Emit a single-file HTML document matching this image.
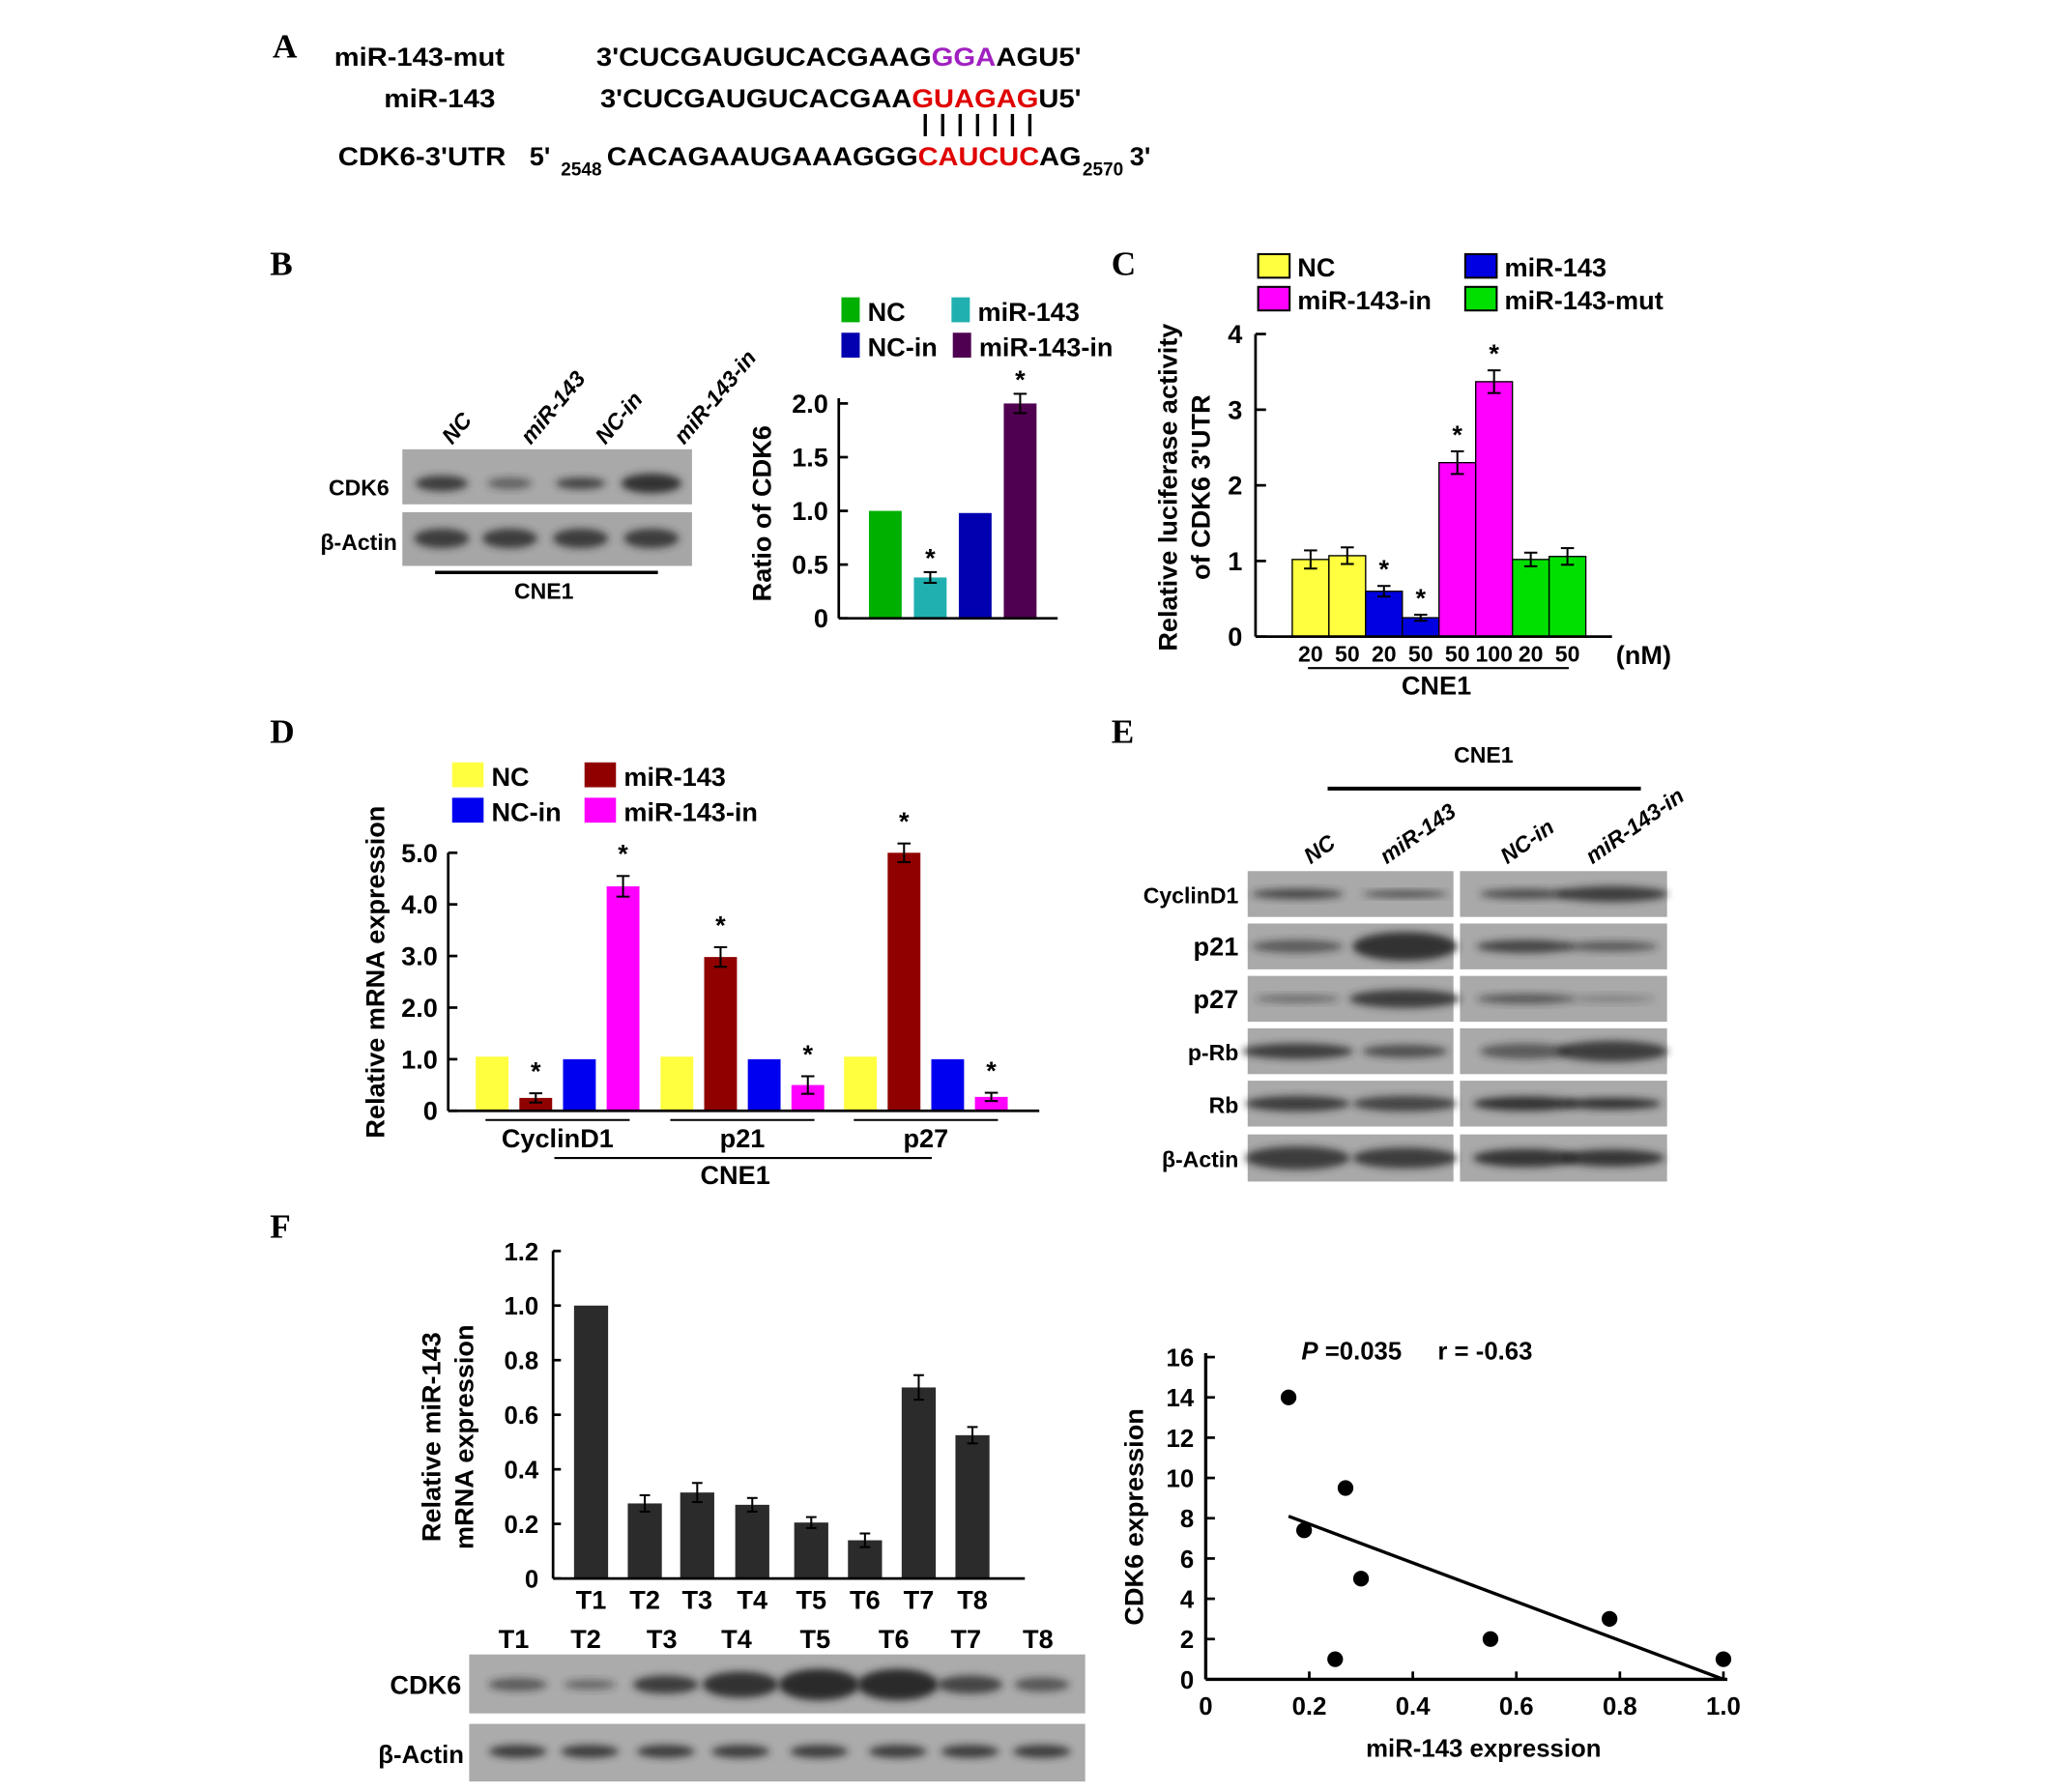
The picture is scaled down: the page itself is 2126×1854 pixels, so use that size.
<!DOCTYPE html>
<html><head><meta charset="utf-8"><style>
html,body{margin:0;padding:0;background:#fff;}
svg{display:block;}
text{font-family:"Liberation Sans",Arial,sans-serif;font-weight:bold;fill:#000;}
.lt{font-family:"Liberation Serif",serif;font-size:26px;}
</style></head><body>
<svg id="fig" width="2126" height="1854" viewBox="0 0 1568 1368" preserveAspectRatio="none" xmlns="http://www.w3.org/2000/svg">
<defs>
<filter id="blur" x="-20%" y="-50%" width="140%" height="200%"><feGaussianBlur stdDeviation="3"/></filter>
</defs>
<rect width="1568" height="1368" fill="#fff"/>

<!-- Panel A -->
<g>
<text class="lt" x="208" y="44">A</text>
<text x="255" y="50" font-size="20" textLength="130" lengthAdjust="spacingAndGlyphs">miR-143-mut</text>
<text x="455" y="50" font-size="20" textLength="370" lengthAdjust="spacingAndGlyphs">3'CUCGAUGUCACGAAG<tspan fill="#a020c0">GGA</tspan>AGU5'</text>
<text x="293" y="82" font-size="20" textLength="85" lengthAdjust="spacingAndGlyphs">miR-143</text>
<text x="458" y="82" font-size="20" textLength="367" lengthAdjust="spacingAndGlyphs">3'CUCGAUGUCACGAA<tspan fill="#e00000">GUAGAG</tspan>U5'</text>
<g id="pairs" stroke="#000" stroke-width="2.5"></g>
<text x="258" y="126" font-size="20" textLength="128" lengthAdjust="spacingAndGlyphs">CDK6-3'UTR</text>
<text x="404" y="126" font-size="20">5'</text>
<text x="428" y="134" font-size="14">2548</text>
<text x="463" y="126" font-size="20" textLength="362" lengthAdjust="spacingAndGlyphs">CACAGAAUGAAAGGG<tspan fill="#e00000">CAUCUC</tspan>AG</text>
<text x="826" y="134" font-size="14">2570</text>
<text x="862" y="126" font-size="20">3'</text>
</g>

<!-- Panel B -->
<g>
<text class="lt" x="206" y="210">B</text>
<g id="blotB"></g>
<text x="297" y="378" font-size="17" text-anchor="end">CDK6</text>
<text x="303" y="420" font-size="17" text-anchor="end">β-Actin</text>
<line x1="332" y1="437" x2="502" y2="437" stroke="#000" stroke-width="2.5"/>
<text x="415" y="457" font-size="17" text-anchor="middle">CNE1</text>
<g id="laneB"></g>
<g id="chartB"></g>
<text transform="translate(588,392) rotate(-90)" font-size="20" text-anchor="middle">Ratio of CDK6</text>
</g>

<!-- Panel C -->
<g>
<text class="lt" x="848" y="210">C</text>
<g id="chartC"></g>
<text transform="translate(898,372) rotate(-90)" font-size="20" text-anchor="middle">Relative luciferase activity</text>
<text transform="translate(923,372) rotate(-90)" font-size="20" text-anchor="middle">of CDK6 3'UTR</text>
<text x="1233" y="507" font-size="20">(nM)</text>
<line x1="998" y1="510" x2="1197" y2="510" stroke="#000" stroke-width="1.5"/>
<text x="1096" y="530" font-size="20" text-anchor="middle">CNE1</text>
</g>

<!-- Panel D -->
<g>
<text class="lt" x="206" y="567">D</text>
<g id="chartD"></g>
<text transform="translate(293,742) rotate(-90)" font-size="20" text-anchor="middle">Relative mRNA expression</text>
<line x1="423" y1="884" x2="711" y2="884" stroke="#000" stroke-width="1.5"/>
<text x="561" y="904" font-size="20" text-anchor="middle">CNE1</text>
</g>

<!-- Panel E -->
<g>
<text class="lt" x="848" y="567">E</text>
<text x="1132" y="582" font-size="17" text-anchor="middle">CNE1</text>
<line x1="1013" y1="602" x2="1252" y2="602" stroke="#000" stroke-width="3"/>
<g id="laneE"></g>
<g id="blotE"></g>
</g>

<!-- Panel F -->
<g>
<text class="lt" x="206" y="945">F</text>
<g id="chartF"></g>
<text transform="translate(336,1097) rotate(-90)" font-size="20" text-anchor="middle">Relative miR-143</text>
<text transform="translate(361,1097) rotate(-90)" font-size="20" text-anchor="middle">mRNA expression</text>
<g id="blotF"></g>
<text x="352" y="1293" font-size="20" text-anchor="end">CDK6</text>
<text x="354" y="1346" font-size="19" text-anchor="end">β-Actin</text>
<g id="chartS"></g>
<text x="993" y="1038" font-size="19"><tspan font-style="italic">P</tspan> =0.035</text>
<text x="1097" y="1038" font-size="19">r = -0.63</text>
<text x="1132" y="1341" font-size="19" text-anchor="middle">miR-143 expression</text>
<text transform="translate(872,1158) rotate(-90)" font-size="20" text-anchor="middle">CDK6 expression</text>
</g>
</svg>
<script>
// ---- data ----
const bCats = ['NC','miR-143','NC-in','miR-143-in'];
const bVals = [1.0, 0.38, 0.98, 2.0];
const bErr = [0, 0.05, 0, 0.09];
const bStar = [false, true, false, true];
const bTicks = [0, 0.5, 1.0, 1.5, 2.0];
const bTickLabels = ['0','0.5','1.0','1.5','2.0'];

const cLegend = ['NC','miR-143','miR-143-in','miR-143-mut'];
const cDose = ['20','50','20','50','50','100','20','50'];
const cVals = [1.02, 1.07, 0.60, 0.25, 2.30, 3.37, 1.02, 1.06];
const cErr = [0.12, 0.11, 0.07, 0.04, 0.15, 0.15, 0.09, 0.11];
const cStar = [false,false,true,true,true,true,false,false];
const cGroup = [0,0,1,1,2,2,3,3];
const cTicks = [0,1,2,3,4];

const dGenes = ['CyclinD1','p21','p27'];
const dSeries = ['NC','miR-143','NC-in','miR-143-in'];
const dNC = [1.05, 1.05, 1.05];
const dMir = [0.25, 2.98, 5.0];
const dNCin = [1.0, 1.0, 1.0];
const dMirIn = [4.35, 0.50, 0.27];
const dMirErr = [0.09, 0.19, 0.18];
const dMirInErr = [0.2, 0.17, 0.08];
const dMirStar = [true, true, true];
const dMirInStar = [true, true, true];
const dTicks = [0,1,2,3,4,5];
const dTickLabels = ['0','1.0','2.0','3.0','4.0','5.0'];

const eLanes = ['NC','miR-143','NC-in','miR-143-in'];
const eRows = ['CyclinD1','p21','p27','p-Rb','Rb','β-Actin'];

const fCats = ['T1','T2','T3','T4','T5','T6','T7','T8'];
const fVals = [1.0, 0.275, 0.315, 0.27, 0.205, 0.14, 0.70, 0.525];
const fErr = [0, 0.03, 0.035, 0.025, 0.02, 0.025, 0.045, 0.03];
const fTicks = [0,0.2,0.4,0.6,0.8,1.0,1.2];
const fTickLabels = ['0','0.2','0.4','0.6','0.8','1.0','1.2'];

const sX = [0.16, 0.19, 0.25, 0.27, 0.30, 0.55, 0.78, 1.0];
const sY = [14, 7.4, 1, 9.5, 5, 2, 3, 1];
const sFit = [[0.16, 8.1],[1.0, 0]];
const sXTicks = [0,0.2,0.4,0.6,0.8,1.0];
const sXTickLabels = ['0','0.2','0.4','0.6','0.8','1.0'];
const sYTicks = [0,2,4,6,8,10,12,14,16];

// ---- helpers ----
const NS='http://www.w3.org/2000/svg';
function mk(parent, tag, attrs, txt){const e=document.createElementNS(NS,tag);for(const k in attrs)e.setAttribute(k,attrs[k]);if(txt!==undefined)e.textContent=txt;parent.appendChild(e);return e;}
function lin(d0,d1,r0,r1){return v=>r0+(v-d0)/(d1-d0)*(r1-r0);}
function errbar(g,x,y0,y1,w){mk(g,'line',{x1:x,x2:x,y1:y0,y2:y1,stroke:'#000','stroke-width':1.5});mk(g,'line',{x1:x-w,x2:x+w,y1:y0,y2:y0,stroke:'#000','stroke-width':1.5});mk(g,'line',{x1:x-w,x2:x+w,y1:y1,y2:y1,stroke:'#000','stroke-width':1.5});}
function star(g,x,y){const t=mk(g,'text',{x:x,y:y,'font-size':20,'text-anchor':'middle'},'*');}
function legendItem(g,x,y,w,h,col,label,fs,stroke){const r=mk(g,'rect',{x:x,y:y,width:w,height:h,fill:col,stroke:stroke?'#000':'none','stroke-width':1.5});const t=mk(g,'text',{x:x+w+6,y:y+h-1,'font-size':fs},label);}
function band(g,cx,cy,w,h,op){mk(g,'ellipse',{cx:cx,cy:cy,rx:w/2,ry:h/2,fill:'#2a2a2a','fill-opacity':op,filter:'url(#blur)'});}

// base pair lines
(function(){const g=document.getElementById('pairs');for(let i=0;i<7;i++){const x=706+i*13.3;mk(g,'line',{x1:x,x2:x,y1:87,y2:104});}})();

// ---- Panel B ----
(function(){
 const g=document.getElementById('blotB');
 mk(g,'rect',{x:307,y:343,width:221,height:42,fill:'#a9a9a9'});
 mk(g,'rect',{x:307,y:391,width:221,height:41,fill:'#a6a6a6'});
 const cx=[337,389,443,497], cdk=[[40,12,0.85],[34,9,0.55],[38,9,0.8],[46,15,0.95]];
 cx.forEach((x,i)=>{band(g,x,369,cdk[i][0],cdk[i][1],cdk[i][2]);band(g,x,411,42,15,0.85);});
 const lg=document.getElementById('laneB');
 const lx=[345,405,462,522];
 bCats.forEach((c,i)=>{const t=mk(lg,'text',{transform:`translate(${lx[i]},340) rotate(-50)`,'font-size':17,'font-style':'italic','font-weight':'normal'},c);});
 const ch=document.getElementById('chartB');
 const y=lin(0,2,472,308);
 const cols=['#00b000','#20b0b0','#0000b0','#500050'];
 const x0=663, step=34.3, bw=25;
 bVals.forEach((v,i)=>{const bx=x0+i*step;const r=mk(ch,'rect',{x:bx,y:y(v),width:bw,height:472-y(v),fill:cols[i]});
  if(bErr[i]>0)errbar(ch,bx+bw/2,y(v+bErr[i]),y(v-bErr[i]),5);
  if(bStar[i])star(ch,bx+bw/2,y(v+bErr[i])-4);});
 mk(ch,'line',{x1:640,y1:304,x2:640,y2:472,stroke:'#000','stroke-width':2});
 mk(ch,'line',{x1:640,y1:472,x2:807,y2:472,stroke:'#000','stroke-width':2});
 bTicks.forEach((t,i)=>{mk(ch,'line',{x1:640,x2:647,y1:y(t),y2:y(t),stroke:'#000','stroke-width':2});const tl=mk(ch,'text',{x:632,y:y(t)+7,'font-size':20,'text-anchor':'end'},bTickLabels[i]);});
 const lcol=['#00b000','#20b0b0','#0000b0','#500050'];
 legendItem(ch,642,227,14,19,lcol[0],'NC',20,false);
 legendItem(ch,726,227,14,19,lcol[1],'miR-143',20,false);
 legendItem(ch,642,254,14,19,lcol[2],'NC-in',20,false);
 legendItem(ch,727,254,14,19,lcol[3],'miR-143-in',20,false);
})();

// ---- Panel C ----
(function(){
 const ch=document.getElementById('chartC');
 const y=lin(0,4,486,255);
 const cols=['#ffff40','#0000e0','#ff00ff','#00e000'];
 legendItem(ch,960,194,24,18,cols[0],cLegend[0],20,true);
 legendItem(ch,1118,194,24,18,cols[1],cLegend[1],20,true);
 legendItem(ch,960,219,24,18,cols[2],cLegend[2],20,true);
 legendItem(ch,1118,219,24,18,cols[3],cLegend[3],20,true);
 const x0=986,bw=28;
 cVals.forEach((v,i)=>{const bx=x0+i*bw;const r=mk(ch,'rect',{x:bx,y:y(v),width:bw,height:486-y(v),fill:cols[cGroup[i]],stroke:'#000','stroke-width':1});
  errbar(ch,bx+bw/2,y(v+cErr[i]),y(v-cErr[i]),5);
  if(cStar[i])star(ch,bx+bw/2,y(v+cErr[i])-6);
  const t=mk(ch,'text',{x:bx+bw/2,y:505,'font-size':17,'text-anchor':'middle'},cDose[i]);});
 mk(ch,'line',{x1:958,y1:255,x2:958,y2:486,stroke:'#000','stroke-width':2});
 mk(ch,'line',{x1:958,y1:486,x2:1230,y2:486,stroke:'#000','stroke-width':2});
 cTicks.forEach(t=>{mk(ch,'line',{x1:958,x2:966,y1:y(t),y2:y(t),stroke:'#000','stroke-width':2});const tl=mk(ch,'text',{x:948,y:y(t)+7,'font-size':20,'text-anchor':'end'},String(t));});
})();

// ---- Panel D ----
(function(){
 const ch=document.getElementById('chartD');
 const y=lin(0,5,848,651);
 const cols=['#ffff40','#900000','#0000f0','#ff00ff'];
 legendItem(ch,345,582,24,19,cols[0],dSeries[0],20,false);
 legendItem(ch,446,582,24,19,cols[1],dSeries[1],20,false);
 legendItem(ch,345,609,24,19,cols[2],dSeries[2],20,false);
 legendItem(ch,446,609,24,19,cols[3],dSeries[3],20,false);
 const series=[dNC,dMir,dNCin,dMirIn];
 const gx=[363,504,644], bw=25, step=33.3;
 dGenes.forEach((gname,gi)=>{
  series.forEach((arr,si)=>{const v=arr[gi];const bx=gx[gi]+si*step;const r=mk(ch,'rect',{x:bx,y:y(v),width:bw,height:848-y(v),fill:cols[si]});
   if(si===1){errbar(ch,bx+bw/2,y(v+dMirErr[gi]),y(v-dMirErr[gi]),5);if(dMirStar[gi])star(ch,bx+bw/2,y(v+dMirErr[gi])-10);}
   if(si===3){errbar(ch,bx+bw/2,y(v+dMirInErr[gi]),y(v-dMirInErr[gi]),5);if(dMirInStar[gi])star(ch,bx+bw/2,y(v+dMirInErr[gi])-10);}
  });
  const cx=gx[gi]+(3*step+bw)/2;
  mk(ch,'line',{x1:cx-55,x2:cx+55,y1:855,y2:855,stroke:'#000','stroke-width':1.5});
  const t=mk(ch,'text',{x:cx,y:876,'font-size':20,'text-anchor':'middle'},gname);
 });
 mk(ch,'line',{x1:342,y1:651,x2:342,y2:848,stroke:'#000','stroke-width':2});
 mk(ch,'line',{x1:342,y1:848,x2:793,y2:848,stroke:'#000','stroke-width':2});
 dTicks.forEach((t,i)=>{mk(ch,'line',{x1:342,x2:349,y1:y(t),y2:y(t),stroke:'#000','stroke-width':2});const tl=mk(ch,'text',{x:334,y:y(t)+7,'font-size':20,'text-anchor':'end'},dTickLabels[i]);});
})();

// ---- Panel E ----
(function(){
 const lg=document.getElementById('laneE');
 const lx=[1000,1058,1150,1215];
 eLanes.forEach((c,i)=>{const t=mk(lg,'text',{transform:`translate(${lx[i]},660) rotate(-35)`,'font-size':17,'font-style':'italic','font-weight':'normal'},c);});
 const g=document.getElementById('blotE');
 const rowsY=[665,705,745,785,825,866], rh=[35,35,35,35,35,36];
 const cxs=[990,1072,1164,1230];
 const bands=[[[70,8,0.75],[65,5,0.8],[70,8,0.7],[85,12,0.85]],
  [[70,10,0.6],[80,22,0.95],[75,10,0.8],[70,8,0.6]],
  [[65,6,0.5],[85,14,0.85],[75,8,0.6],[65,6,0.3]],
  [[85,12,0.85],[65,10,0.7],[70,12,0.6],[85,16,0.85]],
  [[80,12,0.85],[80,12,0.8],[80,11,0.95],[75,9,0.95]],
  [[80,18,0.85],[80,16,0.85],[80,14,0.9],[80,13,0.9]]];
 eRows.forEach((r,ri)=>{
  mk(g,'rect',{x:952,y:rowsY[ri],width:157,height:rh[ri],fill:'#a9a9a9'});
  mk(g,'rect',{x:1114,y:rowsY[ri],width:158,height:rh[ri],fill:'#a9a9a9'});
  bands[ri].forEach((b,li)=>band(g,cxs[li],rowsY[ri]+rh[ri]/2,b[0],b[1],b[2]));
  const t=mk(g,'text',{x:945,y:rowsY[ri]+rh[ri]/2+7,'font-size':(ri===1||ri===2)?20:17,'text-anchor':'end'},r);
 });
})();

// ---- Panel F bar ----
(function(){
 const ch=document.getElementById('chartF');
 const y=lin(0,1.2,1205,955);
 const xs=[438,479,519,561,606,647,688,729], bw=26;
 fVals.forEach((v,i)=>{const bx=xs[i];const r=mk(ch,'rect',{x:bx,y:y(v),width:bw,height:1205-y(v),fill:'#2b2b2b'});
  if(fErr[i]>0)errbar(ch,bx+bw/2,y(v+fErr[i]),y(v-fErr[i]),4);
  const t=mk(ch,'text',{x:bx+bw/2,y:1228,'font-size':20,'text-anchor':'middle'},fCats[i]);});
 mk(ch,'line',{x1:422,y1:955,x2:422,y2:1205,stroke:'#000','stroke-width':2});
 mk(ch,'line',{x1:422,y1:1205,x2:782,y2:1205,stroke:'#000','stroke-width':2});
 fTicks.forEach((t,i)=>{mk(ch,'line',{x1:422,x2:428,y1:y(t),y2:y(t),stroke:'#000','stroke-width':2});const tl=mk(ch,'text',{x:411,y:y(t)+7,'font-size':19,'text-anchor':'end'},fTickLabels[i]);});
 const g=document.getElementById('blotF');
 mk(g,'rect',{x:358,y:1263,width:470,height:45,fill:'#ababab'});
 mk(g,'rect',{x:358,y:1316,width:470,height:44,fill:'#ababab'});
 const bx=[395,450,508,565,625,685,740,795];
 const cdk=[[45,10,0.6],[40,8,0.5],[50,14,0.85],[58,20,0.95],[62,24,1],[62,24,1],[50,14,0.8],[42,11,0.65]];
 bx.forEach((x,i)=>{band(g,x,1286,cdk[i][0],cdk[i][1],cdk[i][2]);band(g,x,1337,44,10,0.85);
  const t=mk(g,'text',{x:x-3,y:1258,'font-size':20,'text-anchor':'middle'},fCats[i]);});
})();

// ---- Scatter ----
(function(){
 const ch=document.getElementById('chartS');
 const x=lin(0,1,920,1315), y=lin(0,16,1282,1036);
 mk(ch,'line',{x1:920,y1:1033,x2:920,y2:1282,stroke:'#000','stroke-width':2.5});
 mk(ch,'line',{x1:920,y1:1282,x2:1318,y2:1282,stroke:'#000','stroke-width':2.5});
 sYTicks.forEach(t=>{mk(ch,'line',{x1:920,x2:927,y1:y(t),y2:y(t),stroke:'#000','stroke-width':2});const tl=mk(ch,'text',{x:911,y:y(t)+7,'font-size':19,'text-anchor':'end'},String(t));});
 sXTicks.forEach((t,i)=>{mk(ch,'line',{x1:x(t),x2:x(t),y1:1282,y2:1276,stroke:'#000','stroke-width':2});const tl=mk(ch,'text',{x:x(t),y:1309,'font-size':19,'text-anchor':'middle'},sXTickLabels[i]);});
 const fl=mk(ch,'line',{x1:x(sFit[0][0]),y1:y(sFit[0][1]),x2:x(sFit[1][0]),y2:y(sFit[1][1]),stroke:'#000','stroke-width':2.5});
 
 
 sX.forEach((v,i)=>{const c=mk(ch,'circle',{cx:x(v),cy:y(sY[i]),r:6,fill:'#000'});});
})();
</script>
</body></html>
